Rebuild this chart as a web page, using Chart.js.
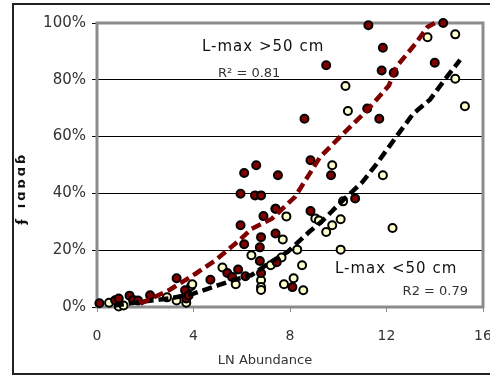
<!DOCTYPE html>
<html>
<head>
<meta charset="utf-8">
<script src="https://cdn.jsdelivr.net/npm/chart.js@4/dist/chart.umd.min.js"></script>
<style>
  html, body { margin: 0; padding: 0; background: #fff; }
  #wrap { width: 490px; height: 376px; }
</style>
</head>
<body>
<div id="wrap"><canvas id="chart" width="490" height="376"></canvas></div>
<script>
// L-max > 50 cm (dark red markers)
var bigX = [0.1, 0.75, 0.9, 1.35, 1.5, 1.7, 2.2, 3.3, 3.65, 3.7, 3.8, 4.7, 5.4, 5.6, 5.85, 5.95, 5.95, 6.1, 6.1, 6.15,
            6.55, 6.6, 6.75, 6.8, 6.75, 6.8, 6.8, 6.9, 7.4, 7.4, 7.5, 7.45, 8.1, 8.6, 8.85, 8.85, 9.5, 9.7, 10.7, 11.2,
            11.25, 11.7, 11.8, 11.85, 12.3, 14.0, 14.35];
var bigY = [1.3, 2.4, 3.0, 4.0, 2.5, 2.3, 4.1, 10.1, 5.9, 3.0, 4.1, 9.6, 12.0, 10.6, 13.2, 39.9, 28.8, 47.2, 22.1, 10.8,
            39.3, 49.9, 16.2, 12.0, 21.0, 24.6, 39.3, 32.0, 34.6, 25.9, 46.4, 15.8, 7.0, 66.3, 51.7, 33.8, 85.1, 46.4, 38.2, 69.9,
            99.2, 66.3, 83.3, 91.3, 82.5, 86.0, 100];

// L-max < 50 cm (pale yellow markers)
var smallX = [0.5, 0.9, 1.1, 2.9, 3.3, 3.7, 3.9, 3.95, 5.2, 5.75, 6.4, 6.8, 6.8, 6.8, 7.2, 7.4, 7.65, 7.7, 7.75, 7.85,
              8.15, 8.3, 8.5, 8.55, 9.05, 9.2, 9.5, 9.75, 9.75, 10.1, 10.1, 10.2, 10.3, 10.4, 11.85, 12.25, 13.7, 14.85, 14.85, 15.25];
var smallY = [1.5, 0.2, 0.5, 3.4, 2.3, 1.5, 7.3, 8.0, 13.9, 8.0, 18.2, 9.4, 7.0, 6.0, 14.7, 34.6, 17.4, 23.8, 8.0, 31.9,
              10.1, 20.2, 14.7, 5.9, 31.2, 30.5, 26.4, 28.8, 49.9, 30.9, 20.2, 37.2, 77.8, 69.0, 46.4, 27.8, 95, 96, 80.4, 70.7];

// moving-average trend lines
var bigTrendX = [1.8, 3, 4.1, 4.9, 5.9, 6.4, 7.25, 8.2, 9.25, 10.2, 11.2, 12.1, 12.4, 13.2, 13.7, 14.0];
var bigTrendY = [1.2, 6, 11.8, 16.4, 23.5, 27.5, 31.1, 38.7, 52.8, 61, 69.3, 78, 84.5, 92.7, 98.6, 100];
var smallTrendX = [0.7, 1.8, 3, 4, 5, 5.7, 6.4, 7.1, 7.9, 8.8, 9.3, 10.2, 11, 11.6, 12.4, 13.1, 13.8, 14.5, 15.05];
var smallTrendY = [0.5, 1.8, 3, 4.7, 7.6, 9.6, 11.2, 15.3, 19.4, 26.5, 30, 37.6, 44, 50.5, 59.9, 68, 73, 81, 87];

var xTicks = [0, 4, 8, 12, 16];
var yTicks = [0, 20, 40, 60, 80, 100];

function pts(xs, ys) {
  return xs.map(function (x, i) { return { x: x, y: ys[i] }; });
}

var FONT = "'DejaVu Sans', Verdana, sans-serif";

var decor = {
  id: 'decor',
  beforeDatasetsDraw: function (chart) {
    var ctx = chart.ctx, a = chart.chartArea;
    ctx.save();
    ctx.strokeStyle = '#8c8c8c';
    ctx.lineWidth = 3;
    ctx.strokeRect(a.left, a.top, a.right - a.left, a.bottom - a.top);
    ctx.restore();
  },
  afterDraw: function (chart) {
    var ctx = chart.ctx;
    ctx.save();
    // outer frame
    ctx.strokeStyle = '#222';
    ctx.lineWidth = 2;
    ctx.strokeRect(13, 4, 490, 370);

    ctx.fillStyle = '#111';
    ctx.textBaseline = 'middle';
    ctx.letterSpacing = '1px';
    ctx.font = '15px ' + FONT;
    ctx.textAlign = 'left';
    ctx.fillText('L-max >50 cm', 202, 47);
    ctx.fillText('L-max <50 cm', 335, 269);
    ctx.letterSpacing = '0px';
    ctx.fillStyle = '#333';
    ctx.font = '13px ' + FONT;
    ctx.fillText('R\u00b2 = 0.81', 218, 74);
    ctx.textAlign = 'right';
    ctx.fillText('R2 = 0.79', 468, 292);

    ctx.textAlign = 'center';
    ctx.font = '13px ' + FONT;
    ctx.fillText('LN Abundance', 265, 361);

    // rotated y title
    ctx.translate(22, 188);
    ctx.rotate(-Math.PI / 2);
    ctx.fillStyle = '#111';
    ctx.letterSpacing = '3px';
    ctx.font = 'bold 13px ' + FONT;
    ctx.fillText('\u0284 \u0131\u0251\u0252\u0251\u0253', 0, 0);
    ctx.restore();
  }
};

new Chart(document.getElementById('chart'), {
  type: 'scatter',
  data: {
    datasets: [
      {
        data: pts(bigTrendX, bigTrendY), showLine: true, order: 0,
        borderColor: '#800000', borderWidth: 4.5, borderDash: [10, 5],
        pointRadius: 0, fill: false
      },
      {
        data: pts(smallTrendX, smallTrendY), showLine: true, order: 0,
        borderColor: '#000', borderWidth: 4.5, borderDash: [10, 5],
        pointRadius: 0, fill: false
      },
      {
        data: pts(bigX, bigY), order: 1,
        backgroundColor: '#800000', borderColor: '#000', borderWidth: 2, pointRadius: 4
      },
      {
        data: pts(smallX, smallY), order: 1,
        backgroundColor: '#ffffcc', borderColor: '#000', borderWidth: 2, pointRadius: 4
      }
    ]
  },
  options: {
    responsive: false,
    animation: false,
    clip: false,
    layout: { padding: { left: 12, top: 23, right: 7, bottom: 0 } },
    plugins: { legend: { display: false }, tooltip: { enabled: false } },
    scales: {
      x: {
        type: 'linear', min: 0, max: 16,
        afterBuildTicks: function (s) { s.ticks = xTicks.map(function (v) { return { value: v }; }); },
        afterFit: function (s) { s.height = 69; s.paddingLeft = 0; s.paddingRight = 0; },
        ticks: { color: '#333', font: { family: FONT, size: 14 }, padding: 16, maxRotation: 0 },
        grid: { drawOnChartArea: false, color: '#8c8c8c', tickLength: 5, lineWidth: 1 },
        border: { display: false }
      },
      y: {
        type: 'linear', min: 0, max: 100,
        afterBuildTicks: function (s) { s.ticks = yTicks.map(function (v) { return { value: v }; }); },
        afterFit: function (s) { s.width = 85; s.paddingTop = 0; s.paddingBottom = 0; },
        ticks: {
          color: '#333', font: { family: FONT, size: 15 }, padding: 6,
          callback: function (v) { return v + '%'; }
        },
        grid: { color: '#000', tickLength: 5, lineWidth: 1 },
        border: { display: false }
      }
    }
  },
  plugins: [decor]
});
</script>
</body>
</html>
